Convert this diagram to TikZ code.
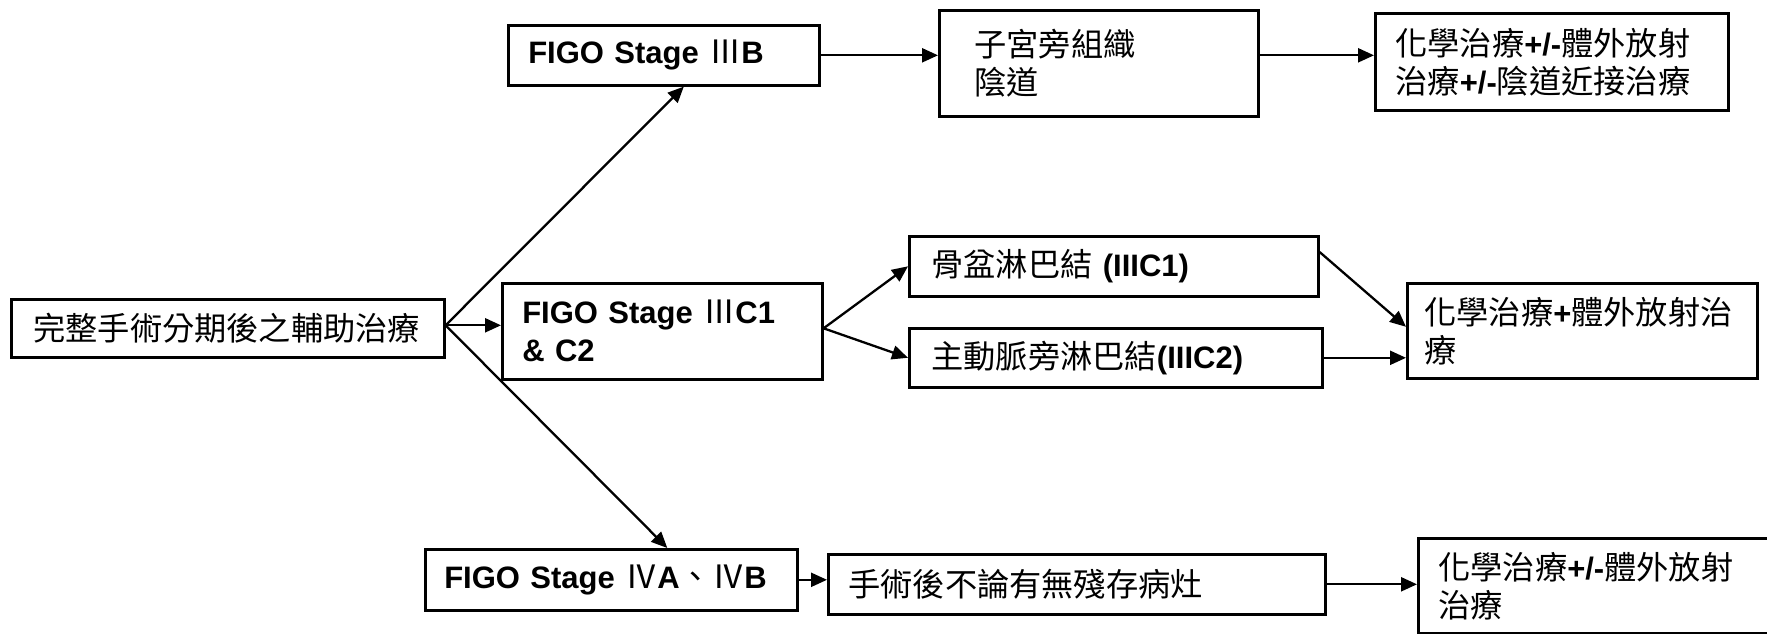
\documentclass[tikz,border=0pt]{standalone}
\usepackage{fontspec}
\setmainfont{Liberation Sans}
\newfontfamily\cjk[Scale=1.04]{Noto Sans CJK TC}
\usetikzlibrary{arrows.meta}
\newcommand\zh[1]{{\cjk\mdseries #1}}
\newcommand\lb[1]{{\bfseries #1}}
\begin{document}
\begin{tikzpicture}[x=1pt,y=-1pt,
  box/.style={draw, line width=2.6pt, anchor=north west, inner ysep=0pt,
    align=left, font=\fontsize{31}{38}\selectfont},
  conn/.style={line width=2.3pt, -{Triangle[length=16pt,width=14pt]}}]
\useasboundingbox (0,0) rectangle (1767,633);
\clip (0,0) rectangle (1767,633);
\fill[white] (0,0) rectangle (1767,633);

\node[box, minimum height=58pt, text width=389pt, inner xsep=22pt] (A) at (10,298)
  {\zh{完整手術分期後之輔助治療}};
\node[box, minimum height=60pt, text width=271pt, inner xsep=20pt] (B) at (507,24)
  {\lb{FIGO Stage \zh{Ⅲ}B}};
\node[box, minimum height=106pt, text width=249pt, inner xsep=35pt] (P) at (938,9)
  {\zh{子宮旁組織}\\\zh{陰道}};
\node[box, minimum height=97pt, text width=313pt, inner xsep=20pt] (R1) at (1374,12)
  {\zh{化學治療}\lb{+/-}\zh{體外放射}\\\zh{治療}\lb{+/-}\zh{陰道近接治療}};
\node[box, minimum height=96pt, text width=280pt, inner xsep=20pt] (C) at (501,282)
  {\lb{FIGO Stage \zh{Ⅲ}C1}\\\lb{\& C2}};
\node[box, minimum height=60pt, text width=365pt, inner xsep=22pt] (L1) at (908,235)
  {\zh{骨盆淋巴結} \lb{(IIIC1)}};
\node[box, minimum height=59pt, text width=369pt, inner xsep=22pt] (L2) at (908,327)
  {\zh{主動脈旁淋巴結}\lb{(IIIC2)}};
\node[box, minimum height=95pt, text width=316pt, inner xsep=17pt] (R2) at (1406,282)
  {\zh{化學治療}\lb{+}\zh{體外放射治}\\\zh{療}};
\node[box, minimum height=61pt, text width=334pt, inner xsep=19pt] (IV) at (424,548)
  {\lb{FIGO Stage \zh{Ⅳ}A\zh{、Ⅳ}B}};
\node[box, minimum height=60pt, text width=457pt, inner xsep=20pt] (S) at (827,553)
  {\zh{手術後不論有無殘存病灶}};
\node[box, minimum height=95pt, text width=360pt, inner xsep=20pt] (R3) at (1417,537)
  {\zh{化學治療}\lb{+/-}\zh{體外放射}\\\zh{治療}};

\coordinate (a0) at ([yshift=3pt]A.east);
\draw[conn] (a0) -- ([xshift=20pt]B.south);
\draw[conn] (a0) -- (a0 -| C.west);
\draw[conn] (a0) -- ([xshift=56pt]IV.north);
\draw[conn] (B.east) -- (B.east -| P.west);
\draw[conn] ([yshift=8pt]P.east) -- ([yshift=8pt]P.east -| R1.west);
\draw[conn] ([yshift=3pt]C.east) -- (L1.west);
\draw[conn] ([yshift=3pt]C.east) -- (L2.west);
\draw[conn] ([yshift=-17pt]L1.north east) -- ([yshift=4pt]R2.west);
\draw[conn] (L2.east) -- (L2.east -| R2.west);
\draw[conn] (IV.east) -- (IV.east -| S.west);
\draw[conn] (S.east) -- (S.east -| R3.west);
\end{tikzpicture}
\end{document}
